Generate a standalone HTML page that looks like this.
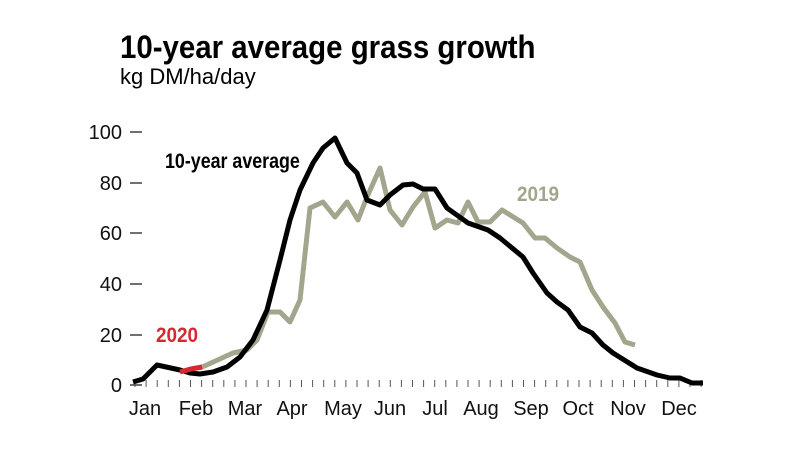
<!DOCTYPE html>
<html><head><meta charset="utf-8"><style>
body{margin:0;background:#fff;width:790px;height:449px;overflow:hidden}
svg text{font-family:"Liberation Sans",sans-serif}
</style></head><body>
<svg width="790" height="449" viewBox="0 0 790 449">
<text x="120" y="58" font-size="32" font-weight="bold" transform="translate(120 0) scale(0.92 1) translate(-120 0)">10-year average grass growth</text>
<text x="120" y="84" font-size="22">kg DM/ha/day</text>
<g font-size="20" text-anchor="end" fill="#111">
<text x="122" y="139">100</text><text x="122" y="190">80</text><text x="122" y="240">60</text>
<text x="122" y="291">40</text><text x="122" y="342">20</text><text x="122" y="392">0</text>
</g>
<g stroke="#111" stroke-width="1.2">
<line x1="130" y1="132" x2="142" y2="132"/><line x1="130" y1="183" x2="142" y2="183"/>
<line x1="130" y1="233" x2="142" y2="233"/><line x1="130" y1="284" x2="142" y2="284"/>
<line x1="130" y1="335" x2="142" y2="335"/><line x1="130" y1="385" x2="142" y2="385"/>
</g>
<g id="ticks" stroke="#555" stroke-width="1"></g>
<g font-size="20" text-anchor="middle" fill="#111">
<text x="145" y="415">Jan</text><text x="196" y="415">Feb</text><text x="245" y="415">Mar</text>
<text x="292" y="415">Apr</text><text x="343" y="415">May</text><text x="390" y="415">Jun</text>
<text x="435" y="415">Jul</text><text x="481" y="415">Aug</text><text x="531" y="415">Sep</text>
<text x="578" y="415">Oct</text><text x="628" y="415">Nov</text><text x="679" y="415">Dec</text>
</g>
<polyline fill="none" stroke="#a4a58d" stroke-width="5" stroke-linejoin="round" points="200,368 233,353 247,350 257,340 268,312 280,312 290,322 300,300 310,208 323,202 335,217 347,202 358,220 367,197 380,168 390,210 402,225 413,207 425,192 435,228 447,220 458,223 468,202 478,222 490,222 502,210 523,223 535,238 545,238 557,248 570,257 580,262 592,290 603,307 615,323 625,342 635,345"/>
<polyline fill="none" stroke="#000" stroke-width="5" stroke-linejoin="round" points="133,382 143,379 157,365 180,370 190,373 200,374 213,372 227,367 240,357 253,340 267,310 280,260 290,220 300,190 313,163 323,148 335,138 347,163 357,173 367,200 380,205 390,195 403,185 413,184 423,189 435,189 447,208 468,223 488,230 500,238 523,257 533,273 547,293 557,302 568,310 580,327 592,333 603,345 613,353 637,368 657,375 670,378 680,378 692,383 703,383"/>
<polyline fill="none" stroke="#d42a2f" stroke-width="5" points="180,372 191,369 202,367"/>
<text x="165" y="168" font-size="21" font-weight="bold" transform="translate(165 0) scale(0.85 1) translate(-165 0)">10-year average</text>
<text x="517" y="201" font-size="21" font-weight="bold" fill="#a4a58d" transform="translate(517 0) scale(0.9 1) translate(-517 0)">2019</text>
<text x="156" y="342" font-size="21" font-weight="bold" fill="#d42a2f" transform="translate(156 0) scale(0.9 1) translate(-156 0)">2020</text>
</svg>
<script>
var g=document.getElementById('ticks'),s='';
for(var i=0;i<52;i++){var x=135+i*11.1;s+='<line x1="'+x+'" y1="380" x2="'+x+'" y2="387"/>';}
g.innerHTML=s;
</script>
</body></html>
